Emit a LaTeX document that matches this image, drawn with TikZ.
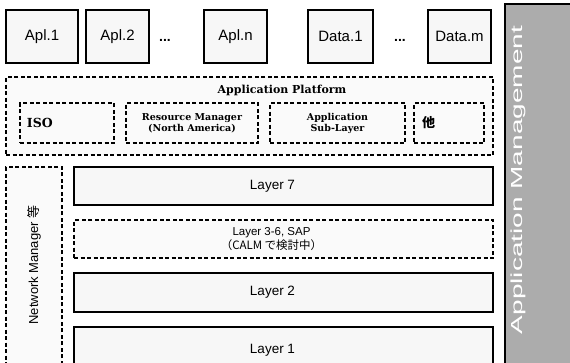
\documentclass[tikz,border=0pt]{standalone}
\usepackage{fontspec}
\setmainfont{Liberation Sans}
\newfontfamily\slab{DejaVu Serif}
\newfontfamily\cjk{Noto Sans CJK JP}
\tikzset{
  solidbox/.style={draw, line width=1.6pt, fill=gray!6, inner sep=0pt},
  dashbox/.style={draw, dash pattern=on 4pt off 2.5pt, line width=1.4pt, fill=gray!4, inner sep=0pt},
  platlabel/.style={font=\slab\bfseries\fontsize{9.5}{11}\selectfont, align=center},
  aplfont/.style={font=\fontsize{15}{17}\selectfont},
  layerfont/.style={font=\fontsize{13.5}{15}\selectfont}
}
\begin{document}
\begin{tikzpicture}[x=1pt,y=-1pt]
		\clip (0,0) rectangle (570,362);
		\fill[white] (0,0) rectangle (570,362);
		
		% Applications and data
		\node[solidbox, aplfont, minimum width=72, minimum height=53] (apl1) at (42,36.5) {Apl.1};
		\node[solidbox, aplfont, minimum width=63, minimum height=53] (apl2) at (117.5,36.5) {Apl.2};
		\node[font=\bfseries\fontsize{14}{16}\selectfont] (dots1) at (165,40) {...};
		\node[solidbox, aplfont, minimum width=63, minimum height=53] (apln) at (235.5,36.5) {Apl.n};
		\node[solidbox, aplfont, minimum width=65, minimum height=53] (data1) at (340.5,36.5) {Data.1};
		\node[font=\bfseries\fontsize{14}{16}\selectfont] (dots2) at (400,40) {...};
		\node[solidbox, aplfont, minimum width=63, minimum height=53] (datam) at (459.5,36.5) {Data.m};
		
		% Application platform
		\node[dashbox, minimum width=487, minimum height=78] (platform) at (249.5,116) {};
		\node[font=\slab\bfseries\fontsize{11}{12}\selectfont] (plattitle) at (282,90) {Application Platform};
		\node[dashbox, text width=80, inner xsep=7, minimum height=40, align=left, font=\slab\bfseries\fontsize{12.5}{14}\selectfont] (iso) at (67,123) {ISO};
		\node[dashbox, platlabel, minimum width=132, minimum height=40] (resman) at (192,123) {Resource Manager\\(North America)};
		\node[dashbox, platlabel, minimum width=135, minimum height=40] (sublayer) at (337.5,123) {Application\\Sub-Layer};
		\node[dashbox, text width=54, inner xsep=8, minimum height=40, align=left, font=\cjk\bfseries\fontsize{13}{14}\selectfont] (other) at (449,123) {他};
		
		% Network manager
		\node[dashbox, minimum width=56, minimum height=213] (netmgr) at (34,273.5) {};
		\node[rotate=90, font=\fontsize{13}{14}\selectfont] (netlabel) at (34,265) {Network Manager {\cjk 等}};
		
		% Layers
		\node[solidbox, minimum width=419, minimum height=38, label={[layerfont, xshift=-11pt]center:Layer 7}] (layer7) at (283.5,186) {};
		\node[dashbox, minimum width=419, minimum height=38, label={[align=center, font=\fontsize{11.5}{14}\selectfont, xshift=-12pt]center:Layer 3-6, SAP\\{\cjk （CALM で検討中）}}] (layer36) at (283.5,239) {};
		\node[solidbox, minimum width=419, minimum height=39, label={[layerfont, xshift=-11pt]center:Layer 2}] (layer2) at (283.5,292.5) {};
		\node[solidbox, minimum width=419, minimum height=53, label={[layerfont, xshift=-11pt, yshift=3.5pt]center:Layer 1}] (layer1) at (283.5,353.5) {};
		
		% Application management
		\node[draw, line width=1.6pt, fill=gray!65, minimum width=70, minimum height=372, inner sep=0pt] (appmgmt) at (540,190) {};
		\node[rotate=90, text=white, font=\fontsize{16}{17}\selectfont] (applabel) at (518,180) {\scalebox{1.75}[1]{Application Management}};
		
	\end{tikzpicture}
\end{document}
